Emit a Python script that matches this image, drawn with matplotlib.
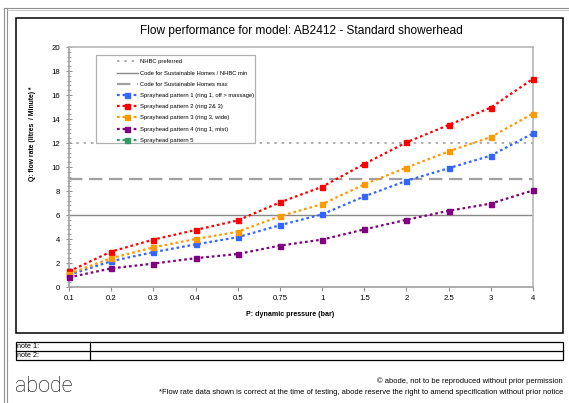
import matplotlib
matplotlib.use("Agg")
import matplotlib.pyplot as plt
from matplotlib.lines import Line2D
from matplotlib.patches import Rectangle
import numpy as np

plt.rcParams['font.family'] = ['Liberation Sans', 'DejaVu Sans']

# ---- data ----
pressures = ['0.1', '0.2', '0.3', '0.4', '0.5', '0.75', '1', '1.5', '2', '2.5', '3', '4']
pattern1 = [1.0, 2.15, 2.9, 3.55, 4.15, 5.15, 6.05, 7.55, 8.85, 9.9, 10.95, 12.8]
pattern2 = [1.3, 2.95, 3.95, 4.75, 5.55, 7.05, 8.35, 10.25, 12.05, 13.5, 14.95, 17.35]
pattern3 = [1.1, 2.4, 3.3, 4.0, 4.6, 5.9, 6.9, 8.55, 9.95, 11.3, 12.5, 14.45]
pattern4 = [0.8, 1.55, 1.95, 2.4, 2.75, 3.45, 3.95, 4.8, 5.6, 6.35, 6.95, 8.05]
pattern5 = []
series_labels = ['Sprayhead pattern 1 (ring 1, off > massage)',
                 'Sprayhead pattern 2 (ring 2& 3)',
                 'Sprayhead pattern 3 (ring 3, wide)',
                 'Sprayhead pattern 4 (ring 1, mist)',
                 'Sprayhead pattern 5']
series_colors = ['#3366FF', '#FF0000', '#FF9900', '#800080', '#339966']
nhbc_preferred = 12
code_min = 6
code_max = 9
ref_labels = ['NHBC preferred', 'Code for Sustainable Homes / NHBC min',
              'Code for Sustainable Homes max']

W, H = 569, 403
fig = plt.figure(figsize=(W / 100, H / 100), dpi=100)

def fx(x):
    return x / W

def fy(y):
    return 1 - y / H

# page frame
for xx in (4, 6.5):
    fig.add_artist(Line2D([fx(xx), fx(xx)], [fy(8), 0], color='#909090', lw=0.8))
fig.add_artist(Line2D([fx(4), 1], [fy(8), fy(8)], color='#909090', lw=0.8))
fig.add_artist(Line2D([fx(6.5), 1], [fy(10), fy(10)], color='#c0c0c0', lw=0.6))
# chart frame
fig.add_artist(Rectangle((fx(15.5), fy(333)), fx(563) - fx(15.5), fy(18) - fy(333),
                         fill=False, ec='black', lw=1.1))

# notes table
fig.add_artist(Rectangle((fx(15.5), fy(359.5)), fx(563) - fx(15.5), fy(342) - fy(359.5),
                         fill=False, ec='black', lw=0.9))
fig.add_artist(Line2D([fx(15.5), fx(563)], [fy(351), fy(351)], color='black', lw=0.9))
fig.add_artist(Line2D([fx(90), fx(90)], [fy(342), fy(359.5)], color='black', lw=0.9))
fig.text(fx(17), fy(346.5), 'note 1:', fontsize=5.2, va='center', ha='left')
fig.text(fx(17), fy(355.3), 'note 2:', fontsize=5.2, va='center', ha='left')

# footer
fig.text(fx(15), fy(386), 'abode', fontsize=15.5, family=['Roboto', 'DejaVu Sans'],
         weight='light', va='center', ha='left', color='black')
fig.text(fx(563), fy(381), '\u00a9 abode, not to be reproduced without prior permission',
         fontsize=5.4, ha='right', va='center')
fig.text(fx(563), fy(392.5), '*Flow rate data shown is correct at the time of testing, abode reserve '
         'the right to amend specification without prior notice',
         fontsize=5.4, ha='right', va='center')

# title
fig.text(fx(301), fy(31), 'Flow performance for model: AB2412 - Standard showerhead',
         fontsize=8.6, ha='center', va='center')

ax = fig.add_axes([fx(69), fy(287), fx(533) - fx(69), fy(47) - fy(287)])
x = np.arange(len(pressures))

l1 = ax.axhline(nhbc_preferred, color='#999999', lw=1.1, ls=(0, (1.6, 3.2)), zorder=1)
l2 = ax.axhline(code_min, color='#888888', lw=1.0, ls='-', zorder=1)
l3 = ax.axhline(code_max, color='#a0a0a0', lw=1.6, ls=(0, (6, 3)), zorder=1)

handles = [l1, l2, l3]
for vals, col, lab in zip([pattern1, pattern2, pattern3, pattern4, pattern5],
                          series_colors, series_labels):
    xs = x[:len(vals)]
    h, = ax.plot(xs, vals, color=col, lw=1.6, ls=(0, (1.2, 1.3)), marker='s',
                 ms=3.6, mec=col, mfc=col, clip_on=False, zorder=3, label=lab)
    handles.append(h)

ax.set_xlim(0, len(pressures) - 1)
ax.set_ylim(0, 20)
ax.set_xticks(x)
ax.set_xticklabels(pressures)
ax.set_yticks(np.arange(0, 21, 2))
ax.set_yticks(np.arange(0, 20.01, 0.4), minor=True)
ax.tick_params(axis='y', which='major', direction='inout', length=5, width=0.8,
               color='#909090', labelsize=5.6, pad=4)
ax.tick_params(axis='y', which='minor', direction='inout', length=3, width=0.6,
               color='#909090')
ax.tick_params(axis='x', which='major', direction='out', length=3, width=0.8,
               color='#909090', labelsize=5.6, pad=3)
for s in ax.spines.values():
    s.set_color('#b8b8b8')
    s.set_linewidth(1.2)
ax.spines['left'].set_color('#a0a0a0')
ax.spines['bottom'].set_color('#a0a0a0')

ax.set_xlabel('P: dynamic pressure (bar)', fontsize=5.1, weight='bold')
ax.xaxis.set_label_coords((290 - 69) / 464, (287 - 314) / 240)
ax.xaxis.label.set_va('center')
ax.set_ylabel('Q: flow rate (litres  / Minute) *', fontsize=4.9, weight='bold')
ax.yaxis.set_label_coords((33 - 69) / 464, (287 - 134) / 240)
ax.yaxis.label.set_va('center')

# legend frame
ax.add_patch(Rectangle((fx(96), fy(143)), fx(255) - fx(96), fy(55) - fy(143),
                       transform=fig.transFigure, fc='white', ec='#b0b0b0', lw=0.9,
                       zorder=4, clip_on=False))
leg = ax.legend(handles, ref_labels + series_labels, loc='upper left',
                bbox_to_anchor=(fx(114.5), fy(57)), bbox_transform=fig.transFigure,
                fontsize=4.2, frameon=False,
                handlelength=3.6, handletextpad=0.3, labelspacing=1.05,
                borderpad=0.4, numpoints=1, borderaxespad=0)
leg.set_zorder(5)

fig.savefig('out.png', dpi=100)
